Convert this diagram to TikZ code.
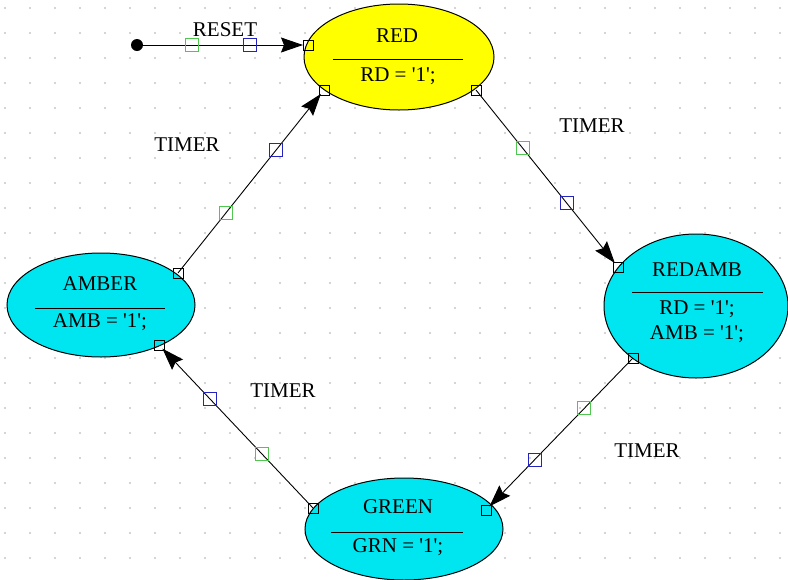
\documentclass[tikz,border=0pt]{standalone}
\usepackage{fontspec}
\setmainfont{Liberation Serif}
\usepackage{tikz}
\usetikzlibrary{positioning, arrows.meta, calc, shapes.geometric}
\definecolor{stateyellow}{RGB}{255,255,0}
\definecolor{statecyan}{RGB}{0,230,240}
\definecolor{taggreen}{RGB}{80,200,80}
\definecolor{tagblue}{RGB}{35,35,190}
\newcommand{\sq}{\textquotesingle}
\tikzset{
    statenode/.style = {ellipse, draw=black, line width=1pt, fill=statecyan,
                        inner sep=0pt},
    portnode/.style  = {draw=black, minimum size=10pt, inner sep=0pt,
                        line width=0.9pt},
    tagnode/.style   = {draw, minimum size=13pt, inner sep=0pt, line width=1pt},
    trans/.style     = {-{Stealth[length=22pt,width=15pt,inset=3pt]},
                        line width=0.9pt, shorten >=5pt},
    lbl/.style       = {font=\fontsize{21}{24}\selectfont, inner sep=0pt},
}

\begin{document}
\begin{tikzpicture}[x=1pt, y=-1pt]

\useasboundingbox (0,0) rectangle (788,579);

% dotted grid
\foreach \x in {5,30,...,785}
    \foreach \y in {8,33,...,578}
        \fill[gray!45] (\x,\y) circle (1.1pt);

% states
\node[statenode, fill=stateyellow, minimum width=190pt, minimum height=106pt]
    (RED) at (399,57) {};
\node[statenode, minimum width=188pt, minimum height=104pt]
    (AMBER) at (101,305) {};
\node[statenode, minimum width=184pt, minimum height=144pt]
    (REDAMB) at (696,306) {};
\node[statenode, minimum width=198pt, minimum height=102pt]
    (GREEN) at (404,529) {};

% state texts
\node[lbl] (redName) at (397,36) {RED};
\draw[line width=0.9pt] (333,59) -- (463,59);
\node[lbl] (redOut) at (398,76) {RD = \sq1\sq;};

\node[lbl] (amberName) at (100,284) {AMBER};
\draw[line width=0.9pt] (35,308) -- (165,308);
\node[lbl] (amberOut) at (100,322) {AMB = \sq1\sq;};

\node[lbl] (redambName) at (697,270) {REDAMB};
\draw[line width=0.9pt] (632,292) -- (763,292);
\node[lbl] (redambOut1) at (697,309) {RD = \sq1\sq;};
\node[lbl] (redambOut2) at (697,334) {AMB = \sq1\sq;};

\node[lbl] (greenName) at (398,507) {GREEN};
\draw[line width=0.9pt] (331,532) -- (463,532);
\node[lbl] (greenOut) at (398,547) {GRN = \sq1\sq;};

% ports
\node[portnode] (pRst)       at (308,45) {};
\node[portnode] (pRedIn)     at (324,90) {};
\node[portnode] (pRedOut)    at (476,90) {};
\node[portnode] (pRedambIn)  at (618,267) {};
\node[portnode] (pRedambOut) at (633,358) {};
\node[portnode] (pGreenIn)   at (486,510) {};
\node[portnode] (pGreenOut)  at (313,508) {};
\node[portnode] (pAmberIn)   at (159,345) {};
\node[portnode] (pAmberOut)  at (178,273) {};

\node[circle, fill=black, minimum size=12pt, inner sep=0pt] (rstDot) at (137,45) {};

% transitions
\draw[trans] (rstDot.center) --
    node[tagnode, draw=taggreen, pos=0.32] {}
    node[tagnode, draw=tagblue, pos=0.66] {} (pRst.center);
\draw[trans] (pAmberOut.center) --
    node[tagnode, draw=taggreen, pos=0.33] {}
    node[tagnode, draw=tagblue, pos=0.67] {} (pRedIn.center);
\draw[trans] (pRedOut.center) --
    node[tagnode, draw=taggreen, pos=0.33] {}
    node[tagnode, draw=tagblue, pos=0.64] {} (pRedambIn.center);
\draw[trans] (pRedambOut.center) --
    node[tagnode, draw=taggreen, pos=0.33] {}
    node[tagnode, draw=tagblue, pos=0.67] {} (pGreenIn.center);
\draw[trans] (pGreenOut.center) --
    node[tagnode, draw=taggreen, pos=0.33] {}
    node[tagnode, draw=tagblue, pos=0.67] {} (pAmberIn.center);

% transition labels
\node[lbl] (rstLbl) at (225,30) {RESET};
\node[lbl] (t1Lbl) at (187,145) {TIMER};
\node[lbl] (t2Lbl) at (592,126) {TIMER};
\node[lbl] (t3Lbl) at (647,451) {TIMER};
\node[lbl] (t4Lbl) at (283,391) {TIMER};

\end{tikzpicture}
\end{document}
